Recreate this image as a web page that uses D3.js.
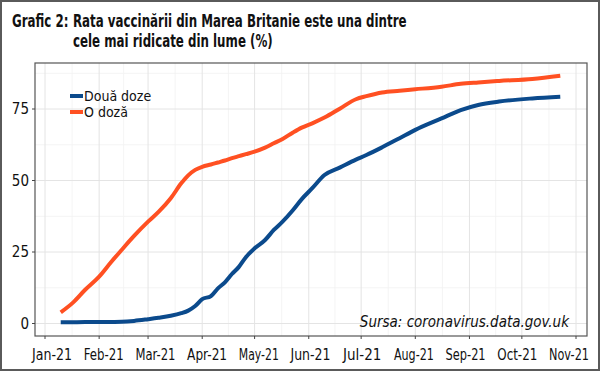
<!DOCTYPE html>
<html>
<head>
<meta charset="utf-8">
<script src="https://cdn.jsdelivr.net/npm/d3@7"></script>
<style>
  body { margin: 0; background: #fff; }
  text { font-family: "Liberation Sans Narrow", "DejaVu Sans Condensed", "DejaVu Sans", sans-serif; font-stretch: condensed; fill: #111; }
</style>
</head>
<body>
<svg width="600" height="371"></svg>
<script>
const svg = d3.select("svg");

// data
const dates = ["2021-01-10","2021-01-17","2021-01-24","2021-02-01","2021-02-08","2021-02-14","2021-02-21",
  "2021-03-01","2021-03-07","2021-03-14","2021-03-20","2021-03-24","2021-03-28","2021-04-01","2021-04-06",
  "2021-04-10","2021-04-14","2021-04-18","2021-04-22","2021-04-26","2021-05-01","2021-05-07","2021-05-12",
  "2021-05-17","2021-05-23","2021-05-28","2021-06-03","2021-06-10","2021-06-19","2021-06-28","2021-07-04",
  "2021-07-13","2021-07-23","2021-08-01","2021-08-16","2021-08-27","2021-09-06","2021-09-18","2021-10-07",
  "2021-10-23"];
const oDoza = [3.9,7.3,11.8,16.4,21.6,25.8,30.6,35.6,39.0,43.8,49.0,51.8,53.7,54.8,55.6,56.3,57.0,57.8,58.5,
  59.2,60.1,61.5,63.0,64.5,66.8,68.5,70.0,72.0,75.2,78.4,79.5,80.8,81.4,81.9,82.8,83.8,84.3,84.8,85.5,86.6];
const douaDoze = [0.4,0.45,0.5,0.5,0.55,0.6,0.9,1.5,2.0,2.7,3.6,4.5,6.1,8.5,9.6,12.3,14.4,17.3,19.8,23.2,26.3,
  29.2,32.7,35.6,39.7,43.5,47.3,51.9,54.6,57.3,58.9,61.6,64.8,67.7,71.7,74.6,76.4,77.6,78.7,79.3];
const monthLabels = ["Jan-21","Feb-21","Mar-21","Apr-21","May-21","Jun-21","Jul-21","Aug-21","Sep-21","Oct-21","Nov-21"];
const yTicks = [0, 25, 50, 75];
const yMinor = [12.5, 37.5, 62.5, 87.5];
const seriesNames = ["Două doze", "O doză"];
const colors = ["#0b4a8c", "#ff5022"];
const titleLines = ["Rata vaccinării din Marea Britanie este una dintre", "cele mai ridicate din lume (%)"];

const parse = d3.timeParse("%Y-%m-%d");
const panel = { left: 35, right: 587, top: 63, bottom: 336 };

const x = d3.scaleTime()
  .domain([new Date(2021, 0, 1), new Date(2021, 10, 1)])
  .range([45, 576]);
const y = d3.scaleLinear().domain([0, 75]).range([323.5, 109]);
const labelX = d3.scalePoint().domain(monthLabels).range([52, 569]);

const months = d3.timeMonth.range(new Date(2021, 0, 1), new Date(2021, 10, 2));
const midMonths = d3.pairs(months).map(([a, b]) => new Date((+a + +b) / 2));

// squeeze a text to a given width (the reference uses a condensed face)
function fit(sel, w) {
  sel.each(function () {
    if (this.getComputedTextLength() > w) {
      d3.select(this).attr("textLength", w).attr("lengthAdjust", "spacingAndGlyphs");
    }
  });
}

// outer frame
svg.append("rect").attr("x", 1).attr("y", 1).attr("width", 598).attr("height", 369)
  .attr("fill", "#fff").attr("stroke", "#5a5a5a").attr("stroke-width", 2);

// title: one text element, squeezed horizontally
const probe = svg.append("text").attr("font-size", 17).style("font-weight", "bold").text(titleLines[0]);
const sx = 334 / probe.node().getComputedTextLength();
probe.remove();
const title = svg.append("text")
  .attr("font-size", 17).style("font-weight", "bold")
  .attr("transform", `scale(${sx},1)`);
title.append("tspan").attr("x", 12 / sx).attr("y", 27).text("Grafic 2:");
title.append("tspan").attr("x", 73 / sx).attr("y", 27).text(titleLines[0]);
title.append("tspan").attr("x", 73 / sx).attr("y", 47).text(titleLines[1]);

// grid
const grid = svg.append("g");
grid.selectAll(".ymin").data(yMinor).join("line")
  .attr("x1", panel.left).attr("x2", panel.right)
  .attr("y1", d => y(d)).attr("y2", d => y(d))
  .attr("stroke", "#f1f1f1").attr("stroke-width", 0.8);
grid.selectAll(".xmin").data(midMonths).join("line")
  .attr("y1", panel.top).attr("y2", panel.bottom)
  .attr("x1", d => x(d)).attr("x2", d => x(d))
  .attr("stroke", "#f1f1f1").attr("stroke-width", 0.8);
grid.selectAll(".ymaj").data(yTicks).join("line")
  .attr("x1", panel.left).attr("x2", panel.right)
  .attr("y1", d => y(d)).attr("y2", d => y(d))
  .attr("stroke", "#e4e4e4").attr("stroke-width", 1);
grid.selectAll(".xmaj").data(months).join("line")
  .attr("y1", panel.top).attr("y2", panel.bottom)
  .attr("x1", d => x(d)).attr("x2", d => x(d))
  .attr("stroke", "#e4e4e4").attr("stroke-width", 1);

// lines
const line = d3.line()
  .x(d => x(d[0])).y(d => y(d[1]))
  .curve(d3.curveMonotoneX);
const series = [douaDoze, oDoza];
series.forEach((vals, i) => {
  svg.append("path")
    .datum(dates.map((d, j) => [parse(d), vals[j]]))
    .attr("fill", "none")
    .attr("stroke", colors[i])
    .attr("stroke-width", 4)
    .attr("stroke-linejoin", "round")
    .attr("d", line);
});

// panel border
svg.append("rect")
  .attr("x", panel.left).attr("y", panel.top)
  .attr("width", panel.right - panel.left).attr("height", panel.bottom - panel.top)
  .attr("fill", "none").attr("stroke", "#555").attr("stroke-width", 1.2);

// y axis
svg.selectAll(".ytick").data(yTicks).join("line")
  .attr("x1", panel.left - 3).attr("x2", panel.left)
  .attr("y1", d => y(d)).attr("y2", d => y(d))
  .attr("stroke", "#444");
svg.selectAll(".ylab").data(yTicks).join("text")
  .attr("x", 29).attr("y", d => y(d) + 5)
  .attr("text-anchor", "end").attr("font-size", 15)
  .text(d => d);

// x axis
svg.selectAll(".xtick").data(months).join("line")
  .attr("x1", d => x(d)).attr("x2", d => x(d))
  .attr("y1", panel.bottom).attr("y2", panel.bottom + 3)
  .attr("stroke", "#444");
svg.selectAll(".xlab").data(monthLabels).join("text")
  .attr("x", d => labelX(d)).attr("y", 360)
  .attr("text-anchor", "middle").attr("font-size", 15)
  .text(d => d)
  .call(fit, 40);

// legend
const legend = svg.append("g");
seriesNames.forEach((name, i) => {
  const ly = 96 + i * 16;
  legend.append("line").attr("x1", 70).attr("x2", 83).attr("y1", ly).attr("y2", ly)
    .attr("stroke", colors[i]).attr("stroke-width", 4);
  legend.append("text").attr("x", 84).attr("y", ly + 5).attr("font-size", 14).text(name);
});

// source
svg.append("text").attr("x", 569).attr("y", 327)
  .attr("text-anchor", "end").attr("font-size", 15).attr("font-style", "italic")
  .text("Sursa: coronavirus.data.gov.uk")
  .call(fit, 248);
</script>
</body>
</html>
